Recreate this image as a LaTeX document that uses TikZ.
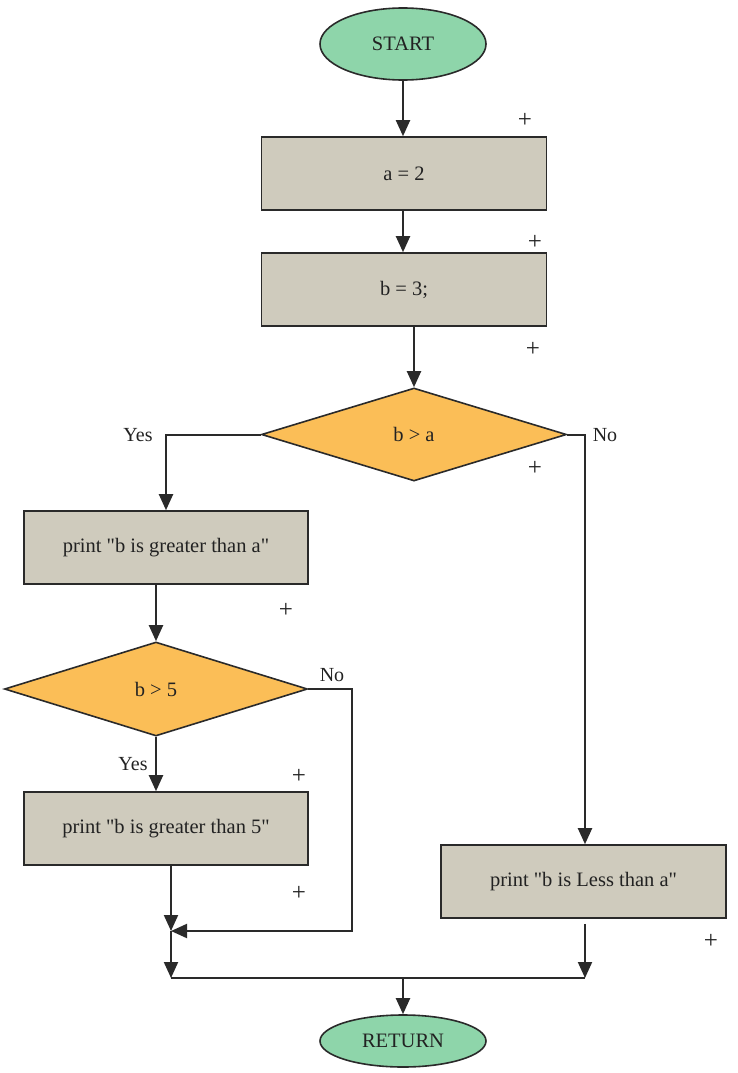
\documentclass[tikz,border=0pt]{standalone}
\usepackage{fontspec}
\setmainfont{Liberation Serif}[Ligatures=TeXOff]
\usetikzlibrary{arrows.meta,shapes.geometric}
\definecolor{termfill}{HTML}{8ED5AA}
\definecolor{boxfill}{HTML}{CFCBBD}
\definecolor{decfill}{HTML}{FBBE57}
\definecolor{edge}{HTML}{2A2A2A}
\definecolor{txt}{HTML}{222222}
\tikzset{
  base/.style={draw=edge, line width=1.6pt, text=txt, inner sep=0pt, font=\fontsize{20.5}{24}\selectfont},
  term/.style={base, ellipse, fill=termfill},
  proc/.style={base, rectangle, fill=boxfill, minimum width=285pt, minimum height=73pt},
  dec/.style={base, diamond, fill=decfill},
  arr/.style={draw=edge, line width=2pt, -{Triangle[length=16pt,width=14pt]}},
  ln/.style={draw=edge, line width=2pt},
  lbl/.style={text=txt, font=\fontsize{20}{24}\selectfont, inner sep=0pt},
  plus/.style={text=txt, font=\fontsize{25}{28}\selectfont, inner sep=0pt}
}
\begin{document}
\begin{tikzpicture}[x=1pt,y=-1pt]
\useasboundingbox (0,0) rectangle (738,1073);
\node[term, minimum width=166pt, minimum height=72pt] (start) at (403,44) {START};
\node[proc] (a) at (404,173.5) {a = 2};
\node[proc] (b) at (404,289.5) {b = 3;};
\node[dec, minimum width=305pt, minimum height=93pt] (d1) at (414,434.5) {b > a};
\node[proc, minimum width=284pt] (g) at (166,547.5) {print "b is greater than a"};
\node[dec, minimum width=303pt, minimum height=94pt] (d2) at (156,689) {b > 5};
\node[proc, minimum width=284pt] (g5) at (166,828.5) {print "b is greater than 5"};
\node[proc] (l) at (583.5,881.5) {print "b is Less than a"};
\node[term, minimum width=166pt, minimum height=52pt] (ret) at (403,1041) {RETURN};

\coordinate (m1) at (171,931);
\coordinate (c2) at (352,931);
\coordinate (m2) at (171,978);
\coordinate (m3) at (585,978);
\coordinate (m4) at (403,978);

\draw[arr] (start.south) -- (start.south |- a.north);
\draw[arr] (a.south -| start.south) -- (b.north -| start.south);
\draw[arr] (d1.north |- b.south) -- (d1.north);
\draw[arr] (d1.west) -| (g.north);
\draw[arr] (d1.east) -| (m3 |- l.north);
\draw[arr] (d2.north |- g.south) -- (d2.north);
\draw[arr] (d2.south) -- (d2.south |- g5.north);
\draw[arr] (g5.south -| m1) -- (m1);
\draw[arr] (d2.east) -| (c2) -- (m1);
\draw[arr] (m1) -- (m2);
\draw[arr, shorten <=5pt] (l.south -| m3) -- (m3);
\draw[ln] (m2) -- (m3);
\draw[arr] (m4) -- (ret.north);

\node[lbl] (y1) at (138,435) {Yes};
\node[lbl] (n1) at (605,435) {No};
\node[lbl] (n2) at (332,675) {No};
\node[lbl] (y2) at (133,764) {Yes};

\node[plus] (p1) at (525,120) {+};
\node[plus] (p2) at (535,242) {+};
\node[plus] (p3) at (533,349) {+};
\node[plus] (p4) at (535,468) {+};
\node[plus] (p5) at (286,610) {+};
\node[plus] (p6) at (299,776) {+};
\node[plus] (p7) at (299,893) {+};
\node[plus] (p8) at (711,941) {+};
\end{tikzpicture}
\end{document}
